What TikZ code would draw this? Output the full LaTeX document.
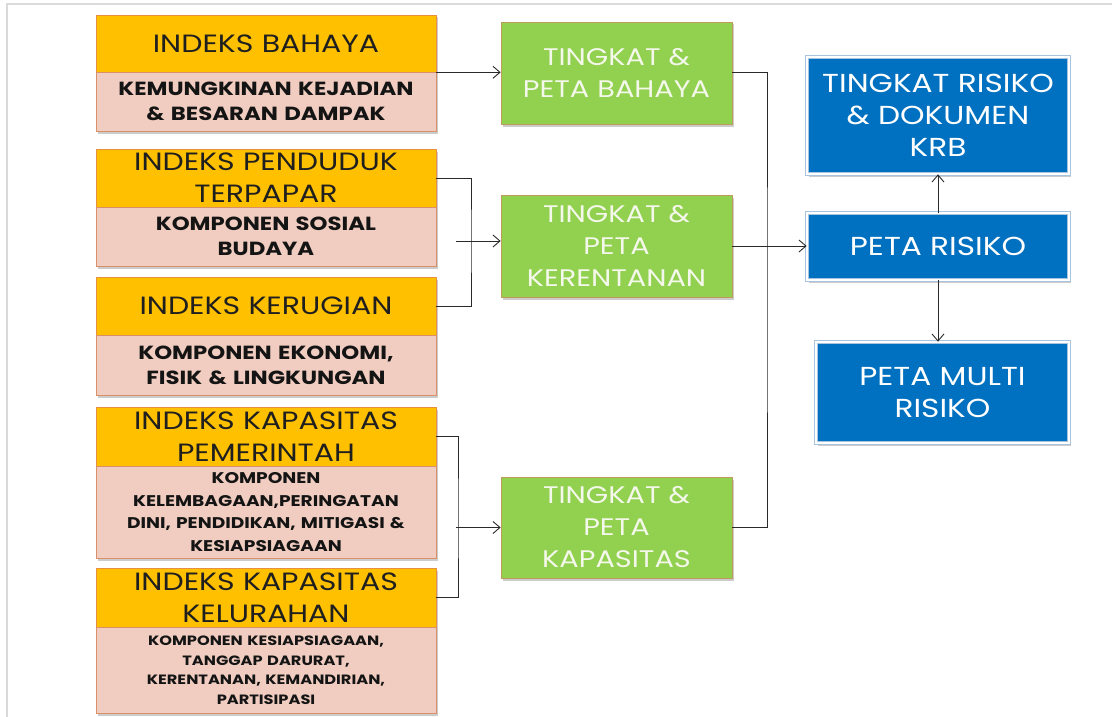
\documentclass[tikz,border=0pt]{standalone}
\usepackage{fontspec}
\setmainfont{Poppins}[FakeStretch=1.2]
\usetikzlibrary{arrows.meta,shadows}
\definecolor{hdorange}{HTML}{FFC000}
\definecolor{hdborder}{HTML}{E89040}
\definecolor{pkfill}{HTML}{F0CDC0}
\definecolor{pkborder}{HTML}{D99068}
\definecolor{grfill}{HTML}{92D050}
\definecolor{grborder}{HTML}{C09A58}
\definecolor{grtext}{HTML}{F4F8EA}
\definecolor{blfill}{HTML}{0070C0}
\definecolor{blborder}{HTML}{A8C4DE}
\definecolor{lncol}{HTML}{2A2A2A}
\definecolor{framecol}{HTML}{DADADA}
\begin{document}
\begin{tikzpicture}[x=1pt,y=-1pt,
  shad/.style={drop shadow={opacity=0.4,shadow xshift=1.8pt,shadow yshift=-2.5pt}},
  hd/.style={shad,draw=hdborder,fill=hdorange,line width=0.6pt,minimum width=340pt,
    inner sep=0pt,text width=334pt,align=center,text=black!88,
    font=\fontsize{25}{32}\selectfont},
  pk/.style={shad,draw=pkborder,fill=pkfill,line width=0.6pt,minimum width=340pt,
    inner sep=0pt,text width=334pt,align=center,text=black!92,
    font=\bfseries\fontsize{19}{25}\selectfont},
  gr/.style={shad,draw=grborder,fill=grfill,line width=0.7pt,minimum width=231pt,
    inner sep=0pt,text width=225pt,align=center,text=grtext,
    font=\fontsize{24}{32}\selectfont},
  bl/.style={shad,draw=blborder,double=white,double distance=2pt,line width=0.7pt,
    fill=blfill,inner sep=0pt,align=center,text=white,
    font=\fontsize{26}{32}\selectfont},
  ln/.style={draw=lncol,line width=0.9pt},
  arr/.style={ln,-{Straight Barb[length=7pt,width=12pt,line width=0.9pt]}}
]
\useasboundingbox (0,0) rectangle (1112,717);
\draw[framecol,line width=2pt] (7,717) -- (7,4) -- (1112,4);

% left column
\node[hd,minimum height=57pt] (h1) at (266,43.5) {INDEKS BAHAYA};
\node[pk,minimum height=59pt] (p1) at (266,101.5) {KEMUNGKINAN KEJADIAN\\\& BESARAN DAMPAK};
\node[hd,minimum height=58pt] (h2) at (266,178) {INDEKS PENDUDUK\\TERPAPAR};
\node[pk,minimum height=59pt] (p2) at (266,236.5) {KOMPONEN SOSIAL\\BUDAYA};
\node[hd,minimum height=58pt] (h3) at (266,306) {INDEKS KERUGIAN};
\node[pk,minimum height=60pt] (p3) at (266,365) {KOMPONEN EKONOMI,\\FISIK \& LINGKUNGAN};
\node[hd,minimum height=59pt] (h4) at (266,436.5) {INDEKS KAPASITAS\\PEMERINTAH};
\node[pk,minimum height=92pt,font=\bfseries\fontsize{15.5}{22.5}\selectfont] (p4) at (266,512)
  {KOMPONEN\\KELEMBAGAAN,PERINGATAN\\DINI, PENDIDIKAN, MITIGASI \&\\KESIAPSIAGAAN};
\node[hd,minimum height=59pt] (h5) at (266,597.5) {INDEKS KAPASITAS\\KELURAHAN};
\node[pk,minimum height=86pt,font=\bfseries\fontsize{13.5}{19.5}\selectfont] (p5) at (266,670)
  {KOMPONEN KESIAPSIAGAAN,\\TANGGAP DARURAT,\\KERENTANAN, KEMANDIRIAN,\\PARTISIPASI};

% middle column
\node[gr,minimum height=102pt] (g1) at (616.5,73) {TINGKAT \&\\PETA BAHAYA};
\node[gr,minimum height=102pt] (g2) at (616.5,246) {TINGKAT \&\\PETA\\KERENTANAN};
\node[gr,minimum height=101pt] (g3) at (616.5,527.5) {TINGKAT \&\\PETA\\KAPASITAS};

% right column
\node[bl,minimum width=262pt,minimum height=117pt] (b1) at (938,115.5) {TINGKAT RISIKO\\\& DOKUMEN\\KRB};
\node[bl,minimum width=262pt,minimum height=67pt] (b2) at (938,246.5) {PETA RISIKO};
\node[bl,minimum width=253pt,minimum height=101pt] (b3) at (942.5,392.5) {PETA MULTI\\RISIKO};

% connectors
\coordinate (bx) at (767,300);
\coordinate (k1) at (471,240);
\coordinate (k1a) at (456,241);
\coordinate (k2) at (458,520);
\coordinate (k2a) at (456,527.5);

\draw[arr] (h1.south east) -- (h1.south east -| g1.west);
\draw[ln] (g1.east |- h1.south east) -| (bx) |- (g3.east);
\draw[ln] (h2.east) -| (k1) |- (h3.east);
\draw[arr] (k1a) -- (k1a -| g2.west);
\draw[ln] (h4.east) -| (k2) |- (h5.east);
\draw[arr] (k2a) -- (k2a -| g3.west);
\draw[arr] (g2.east) -- (g2.east -| b2.west);
\draw[arr] (b2.north) -- (b1.south);
\draw[arr] (b2.south) -- (b2.south |- b3.north);
\end{tikzpicture}
\end{document}
